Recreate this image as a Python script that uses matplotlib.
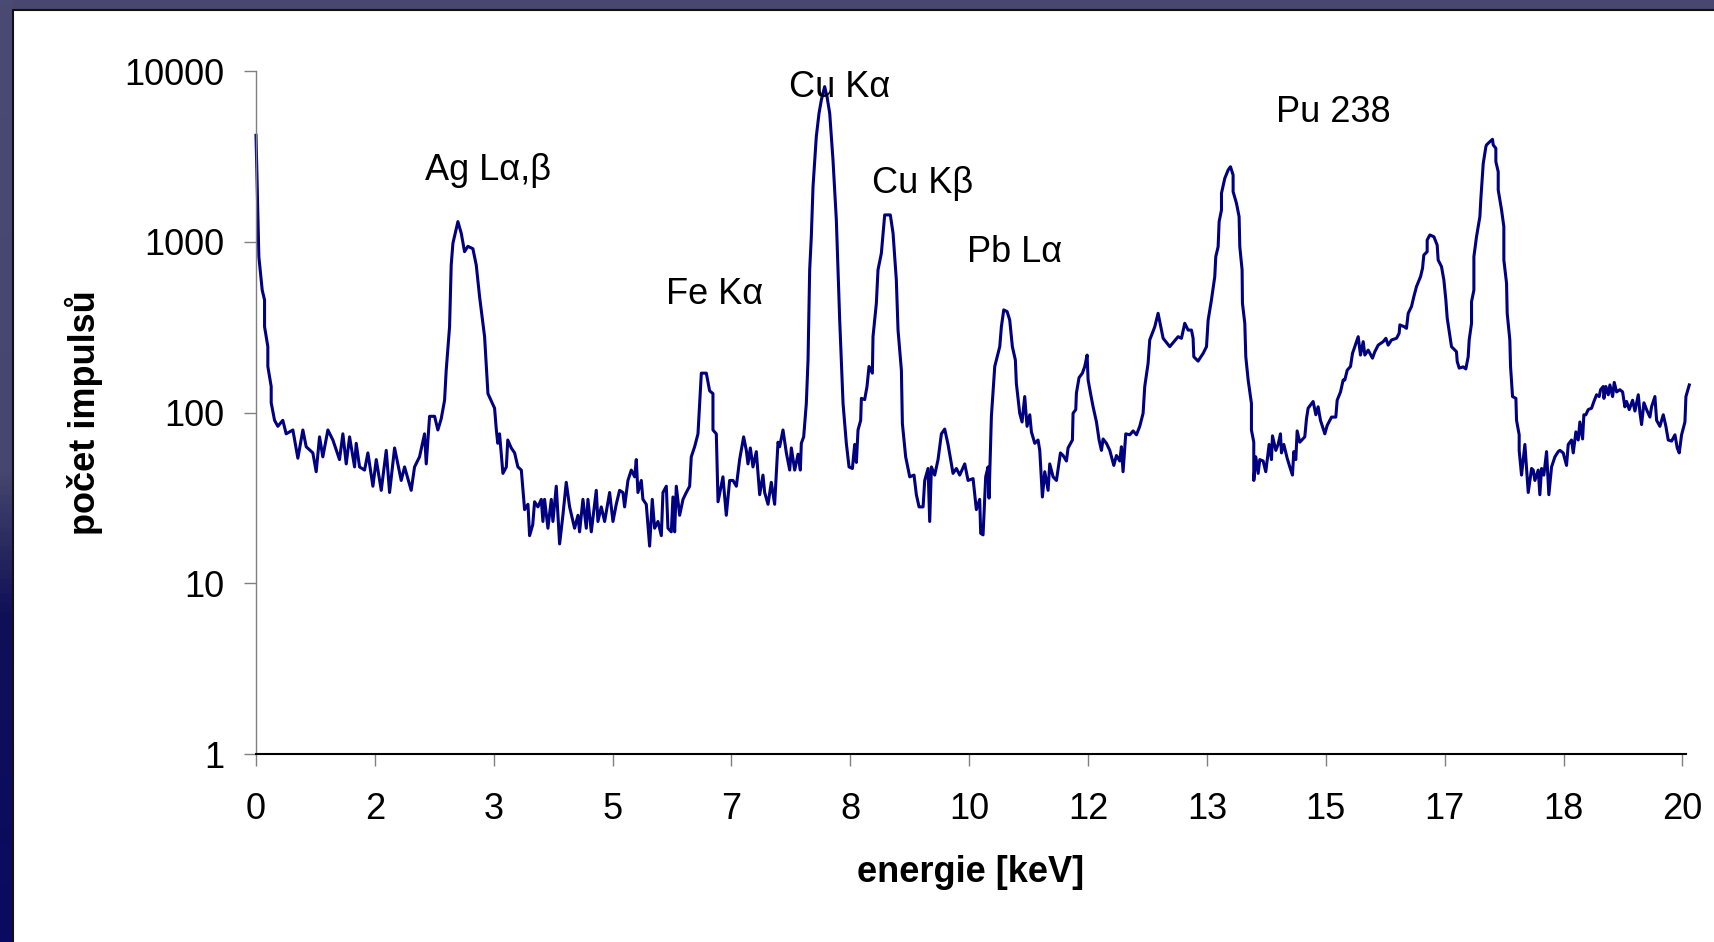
import numpy as np
import matplotlib.pyplot as plt
from matplotlib.patches import Rectangle
from matplotlib.colors import LinearSegmentedColormap
from matplotlib.ticker import NullLocator

plt.rcParams['font.family'] = ['Liberation Sans', 'DejaVu Sans']

# spektrum (energie v keV, počet impulsů)
energie = [
    0.00, 0.04, 0.087, 0.12, 0.12, 0.166, 0.166, 0.213, 0.213, 0.26, 0.306, 0.376, 0.423, 0.517, 0.587,
    0.657, 0.704, 0.797, 0.844, 0.891, 0.937, 1.008, 1.078, 1.171, 1.218, 1.265, 1.312, 1.382, 1.405,
    1.452, 1.522, 1.569, 1.639, 1.686, 1.756, 1.826, 1.873, 1.943, 2.036, 2.083, 2.176, 2.223, 2.293,
    2.363, 2.387, 2.434, 2.504, 2.55, 2.597, 2.644, 2.667, 2.714, 2.737, 2.761, 2.831, 2.878, 2.924,
    2.971, 3.041, 3.088, 3.135, 3.205, 3.228, 3.252, 3.345,
    3.37, 3.39, 3.415, 3.462, 3.51, 3.53, 3.579, 3.626, 3.672, 3.72, 3.766, 3.813, 3.836, 3.88, 3.906,
    3.953, 4.0, 4.023, 4.046, 4.093, 4.14, 4.163, 4.21, 4.257, 4.303, 4.35, 4.397, 4.467, 4.514, 4.537,
    4.584, 4.631, 4.654, 4.701, 4.771, 4.794, 4.841, 4.888, 4.958, 5.005, 5.051, 5.098, 5.145, 5.168,
    5.215, 5.262, 5.309, 5.332, 5.355, 5.402, 5.425, 5.472, 5.519, 5.556, 5.589, 5.636, 5.683, 5.706,
    5.753, 5.776, 5.823, 5.846, 5.87, 5.893, 5.94, 5.987, 6.033, 6.08, 6.103, 6.15, 6.197, 6.244, 6.314,
    6.36, 6.407, 6.407, 6.454, 6.478, 6.547, 6.594,
    6.641, 6.688, 6.735, 6.781, 6.837, 6.875, 6.898, 6.931, 6.968, 7.015, 7.062, 7.108, 7.132, 7.179,
    7.225, 7.272, 7.319, 7.342, 7.389, 7.436, 7.483, 7.506, 7.553, 7.6, 7.632, 7.646, 7.679, 7.716, 7.74,
    7.763, 7.786, 7.81, 7.856, 7.894, 7.927, 7.973, 8.006, 8.044, 8.09, 8.137, 8.184, 8.231, 8.277,
    8.315, 8.362, 8.394, 8.418, 8.441, 8.478, 8.488, 8.534, 8.567, 8.595, 8.642, 8.651, 8.698, 8.721,
    8.768, 8.815, 8.894, 8.932, 8.978, 9.002, 9.049, 9.063, 9.109, 9.166, 9.226, 9.259, 9.297, 9.353,
    9.376, 9.423, 9.446, 9.47, 9.516, 9.563, 9.61, 9.656, 9.703, 9.773, 9.82, 9.867, 9.937, 9.984,
    10.054, 10.1, 10.147, 10.161, 10.194, 10.231, 10.264, 10.278, 10.311, 10.358, 10.428, 10.451, 10.484,
    10.531, 10.568, 10.605, 10.647, 10.661, 10.708, 10.741, 10.778, 10.811, 10.849, 10.872, 10.919,
    10.965, 10.989, 11.026, 11.059, 11.106, 11.129, 11.176, 11.223, 11.279, 11.316, 11.363, 11.386,
    11.447, 11.456, 11.494, 11.503, 11.54, 11.587, 11.62, 11.653, 11.667, 11.7, 11.737, 11.784, 11.821,
    11.854, 11.877, 11.924, 11.971, 12.027, 12.064, 12.111, 12.134, 12.157, 12.195, 12.251, 12.298,
    12.345, 12.391, 12.438, 12.461, 12.508, 12.531, 12.602, 12.648, 12.695, 12.719, 12.812, 12.929,
    12.976, 13.022, 13.069, 13.116, 13.139, 13.149, 13.209, 13.28, 13.327, 13.35,
    13.396, 13.443, 13.457, 13.49, 13.504, 13.537, 13.537, 13.583, 13.63, 13.663, 13.7, 13.7, 13.747,
    13.784, 13.794, 13.826, 13.831, 13.864, 13.878, 13.911, 13.957, 13.957, 13.99, 13.99, 14.018, 14.051,
    14.074, 14.121, 14.158, 14.205, 14.238, 14.252, 14.299, 14.331, 14.364, 14.378, 14.411, 14.458,
    14.495, 14.532, 14.551, 14.579, 14.598, 14.635, 14.705, 14.729, 14.752, 14.822, 14.86, 14.892,
    14.925, 14.986, 15.019, 15.08, 15.14, 15.159, 15.206, 15.243, 15.266, 15.3, 15.346, 15.374, 15.421,
    15.454, 15.486, 15.524, 15.547, 15.594, 15.654, 15.687, 15.734, 15.804, 15.842, 15.874, 15.921,
    15.991, 16.028, 16.038, 16.099, 16.131, 16.155, 16.201, 16.234, 16.271, 16.328, 16.356, 16.374,
    16.421, 16.421, 16.459, 16.515, 16.561, 16.575, 16.622, 16.655, 16.683, 16.702,
    16.762, 16.832, 16.842, 16.87, 16.926, 16.963, 16.996, 17.01, 17.043, 17.043, 17.076, 17.076, 17.113,
    17.16, 17.174, 17.207, 17.244, 17.253, 17.3, 17.337, 17.347, 17.384, 17.384, 17.417, 17.417, 17.464,
    17.496, 17.496, 17.534, 17.543, 17.58, 17.59, 17.618, 17.665, 17.674, 17.711, 17.711, 17.744,
    17.791, 17.838, 17.885, 17.908, 17.931, 17.978, 18.001, 18.025, 18.057, 18.095, 18.127, 18.165,
    18.212, 18.258, 18.282, 18.328, 18.375, 18.399, 18.445, 18.469, 18.506, 18.539, 18.562, 18.6,
    18.618, 18.646, 18.679, 18.726, 18.759, 18.796, 18.833, 18.852, 18.89, 18.899, 18.927, 18.96,
    18.983, 19.021, 19.044, 19.077, 19.123, 19.161, 19.193, 19.217, 19.254, 19.301, 19.334, 19.381,
    19.404, 19.427, 19.46, 19.497, 19.544, 19.567, 19.614, 19.638, 19.684, 19.731, 19.768, 19.801,
    19.848, 19.895, 19.927, 19.955, 19.988, 20.035, 20.049, 20.096,
]
pocet = [
    4200, 818, 521, 456, 318, 243, 186, 142, 114, 90, 83, 90, 75, 79, 54,
    79, 63, 58, 45, 72, 55, 79, 69, 53, 75, 50, 72, 48, 66,
    48, 46, 58, 37, 53, 35, 60, 34, 62, 40, 48, 35, 48, 55,
    75, 50, 95, 95, 79, 92, 118, 177, 318, 731, 980, 1312, 1120, 875,
    940, 910, 731, 476, 278, 190, 129, 106,
    79, 66, 75, 44, 48, 69, 62, 58, 48, 46, 27, 29, 19, 22, 30,
    28, 31, 23, 31, 21, 31, 23, 37, 17, 25, 39, 28, 21, 25, 20,
    31, 21, 31, 20, 35, 23, 28, 23, 34, 23, 29, 35, 34, 28,
    40, 46, 42, 53, 34, 40, 31, 29, 16.5, 31, 21, 23, 19, 34,
    37, 21, 20, 32, 20, 37, 25, 31, 34, 37, 55, 63, 75, 170, 170,
    134, 129, 79, 75, 30, 42, 25,
    40, 40, 37, 53, 72, 60, 50, 62, 48, 59, 33, 43, 34, 29,
    39, 29, 67, 63, 79, 58, 46, 62, 46, 57, 46, 66, 72, 113, 203,
    684, 1070, 2100, 4130, 5650, 6770, 8100, 7080, 5650, 3010, 1340, 348, 113, 66,
    48, 47, 65, 51, 79, 90, 121, 119, 142, 186, 170, 278, 436, 684,
    856, 1436, 1436, 1122, 598, 304, 177, 86, 55, 42, 43, 33, 28, 28,
    40, 47, 23, 48, 43, 53, 75, 80, 65, 44, 47, 43, 50, 40,
    41, 27, 31, 19.6, 19.2, 42, 48, 31.5, 95, 186, 243, 318, 399,
    390, 348, 243, 203, 148, 99, 88, 124, 83, 97, 77, 66,
    69, 60, 32, 45, 35, 50, 42, 40, 58, 56, 52, 62,
    69, 99, 104, 130, 160, 170, 186, 217, 155, 130, 108, 88, 69,
    60, 70, 66, 60, 49, 56, 52, 63, 45, 75, 74, 78,
    74, 83, 99, 142, 194, 266, 318, 381, 304, 272, 243, 278,
    272, 333, 304, 304, 272, 212, 200, 222, 243, 348,
    456, 625, 818, 935, 1312, 1535, 1923, 2350, 2630, 2750, 2460, 1965, 1680,
    1403, 935, 684, 436, 333, 212, 155, 113, 79, 67, 40, 55, 44,
    53, 52, 45, 65, 53, 73, 60, 65, 75, 58, 65, 54,
    48, 43, 59, 53, 78, 67, 72, 92, 106, 116, 97, 108,
    90, 75, 84, 94, 94, 118, 132, 155, 155, 177, 186, 222, 254,
    278, 217, 260, 217, 232, 208, 227, 248, 260, 272, 248, 266,
    272, 291, 326, 318, 311, 381, 417, 477, 546, 625, 699, 836,
    875, 1023, 1096, 1070, 957, 782, 715, 597, 456, 357,
    243, 227, 199, 182, 185, 180, 212, 266, 333, 446, 521, 818, 1072,
    1403, 1795, 2875, 3600, 3690, 3855, 3980, 3690, 3525, 2945, 2570, 2010, 1535,
    1225, 782, 571, 381, 266, 186, 124, 121, 90, 74, 60, 43,
    65, 34, 47, 46, 40, 46, 33, 47, 43, 59, 33, 48,
    55, 59, 60, 58, 49, 65, 69, 58, 77, 69, 88, 70,
    97, 97, 104, 106, 116, 127, 124, 136, 142, 121, 142, 127,
    145, 124, 150, 132, 136, 132, 108, 116, 104, 118, 102, 127,
    100, 85, 114, 104, 94, 108, 124, 90, 83, 97, 83, 69,
    68, 74, 62, 58, 74, 88, 124, 145,
]

x_tick_labels = ['0', '2', '3', '5', '7', '8', '10', '12', '13', '15', '17', '18', '20']
y_ticks = [1, 10, 100, 1000, 10000]
y_tick_labels = ['1', '10', '100', '1000', '10000']

peak_names = ['Ag Lα,β', 'Fe Kα', 'Cu Kα', 'Cu Kβ', 'Pb Lα', 'Pu 238']
peak_x = [3.25, 6.43, 8.18, 9.35, 10.64, 15.11]
peak_y = [2630, 494, 8000, 2180, 860, 5750]

W, H = 1715, 942
fig = plt.figure(figsize=(W / 100, H / 100), dpi=100, facecolor='#474770')

# pozadí slajdu
bg = fig.add_axes([0, 0, 1, 1])
bg.set_xlim(0, W)
bg.set_ylim(0, H)
bg.axis('off')
strip = LinearSegmentedColormap.from_list(
    'strip', [(0, '#0a0a62'), (0.35, '#101058'), (0.42, '#2a2a60'), (0.5, '#46466e'), (1, '#4a4a72')])
grad = np.linspace(0, 1, 200).reshape(-1, 1)
bg.imshow(grad, cmap=strip, extent=[0, 13, 0, H], origin='lower', aspect='auto')
bg.add_patch(Rectangle((13, -5), W, H - 5 + 5 - 5, facecolor='white', edgecolor='#111111', lw=1.5))

ax = fig.add_axes([256 / W, 188 / H, 1430 / W, 683 / H])
ax.patch.set_visible(False)
ax.plot(energie, pocet, color='#000080', lw=2.2, clip_on=False)
ax.set_yscale('log')
ax.set_xlim(0, 20.05)
ax.set_ylim(1, 10000)

ax.set_xticks(np.arange(13) * 20 / 12)
ax.set_xticklabels(x_tick_labels)
ax.set_yticks(y_ticks)
ax.set_yticklabels(y_tick_labels)
ax.yaxis.set_minor_locator(NullLocator())

for s in ['top', 'right']:
    ax.spines[s].set_visible(False)
ax.spines['left'].set_color('#808080')
ax.spines['left'].set_linewidth(1.0)
ax.spines['bottom'].set_color('black')
ax.spines['bottom'].set_linewidth(1.5)

ax.tick_params(axis='both', direction='out', length=8.5, width=1.0, color='#808080', labelsize=26)
ax.tick_params(axis='x', pad=19)
ax.tick_params(axis='y', pad=14)

for name, px, py in zip(peak_names, peak_x, peak_y):
    ax.text(px, py, name, fontsize=26, ha='center', va='center')

fig.text(971 / W, 1 - 873 / H, 'energie [keV]', fontsize=26, fontweight='bold', ha='center', va='center')
fig.text(84 / W, 1 - 413 / H, 'počet impulsů', fontsize=26, fontweight='bold', ha='center', va='center',
         rotation=90)

fig.savefig('out.png', dpi=100, facecolor=fig.get_facecolor())
